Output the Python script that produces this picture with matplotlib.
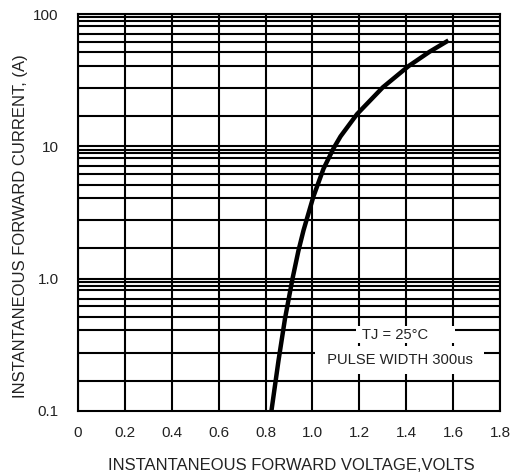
import numpy as np
import matplotlib
matplotlib.use("Agg")
import matplotlib.pyplot as plt

plt.rcParams['font.family'] = ['Liberation Sans', 'DejaVu Sans']

# Data
voltage = [0.825, 0.855, 0.883, 0.915, 0.94, 0.962, 1.004, 1.047, 1.09, 1.12,
           1.19, 1.30, 1.41, 1.50, 1.58]
current = [0.1, 0.239, 0.50, 1.0, 1.62, 2.32, 4.17, 6.76, 9.66, 11.9,
           17.5, 27.9, 40.4, 51.9, 63.1]

x_ticks = [0, 0.2, 0.4, 0.6, 0.8, 1.0, 1.2, 1.4, 1.6, 1.8]
x_tick_labels = ["0", "0.2", "0.4", "0.6", "0.8", "1.0", "1.2", "1.4", "1.6", "1.8"]
y_ticks = [0.1, 1.0, 10, 100]
y_tick_labels = ["0.1", "1.0", "10", "100"]

# grid line placement inside each decade (fraction of decade below the top line)
grid_fracs = [0.026, 0.053, 0.087, 0.15, 0.21, 0.29, 0.39, 0.56, 0.77]

fig = plt.figure(figsize=(5.26, 4.76), dpi=100)
ax = fig.add_axes([78/526, 1-411/476, 422/526, 397/476])
ax.set_yscale('log')
ax.set_xlim(0, 1.8)
ax.set_ylim(0.1, 100)

lw_grid = 1.5
for xv in x_ticks:
    ax.axvline(xv, color='black', lw=lw_grid, zorder=1)
for top in [100, 10, 1.0]:
    ax.axhline(top, color='black', lw=lw_grid, zorder=1)
    for f in grid_fracs:
        ax.axhline(top * 10 ** (-f), color='black', lw=lw_grid, zorder=1)

for sp in ax.spines.values():
    sp.set_linewidth(lw_grid)
    sp.set_color('black')

ax.plot(voltage, current, color='black', lw=3.2, zorder=3, solid_capstyle='butt')

ax.text(1.195, 0.377, " TJ = 25°C      ", ha='left', va='center', fontsize=10.6,
        color='#222222', zorder=4,
        bbox=dict(boxstyle='square,pad=0.12', fc='white', ec='none'))
ax.text(1.372, 0.243, " PULSE WIDTH 300us ", ha='center', va='center', fontsize=10.6,
        color='#222222', zorder=4,
        bbox=dict(boxstyle='square,pad=0.5', fc='white', ec='none'))

ax.set_xticks(x_ticks)
ax.set_xticklabels(x_tick_labels)
ax.set_yticks(y_ticks)
ax.set_yticklabels(y_tick_labels)
ax.minorticks_off()
ax.tick_params(axis='both', length=0, labelsize=11, colors='#222222')
ax.tick_params(axis='x', pad=11)
ax.tick_params(axis='y', pad=14)

ax.set_xlabel("INSTANTANEOUS FORWARD VOLTAGE,VOLTS", fontsize=12, color='#222222', va='center')
ax.xaxis.set_label_coords((291-78)/422, (411-465)/397)
ax.set_ylabel("INSTANTANEOUS FORWARD CURRENT, (A)", fontsize=12, color='#222222', va='center')
ax.yaxis.set_label_coords((21-78)/422, (411-226)/397)

fig.savefig("out.png", dpi=100)
